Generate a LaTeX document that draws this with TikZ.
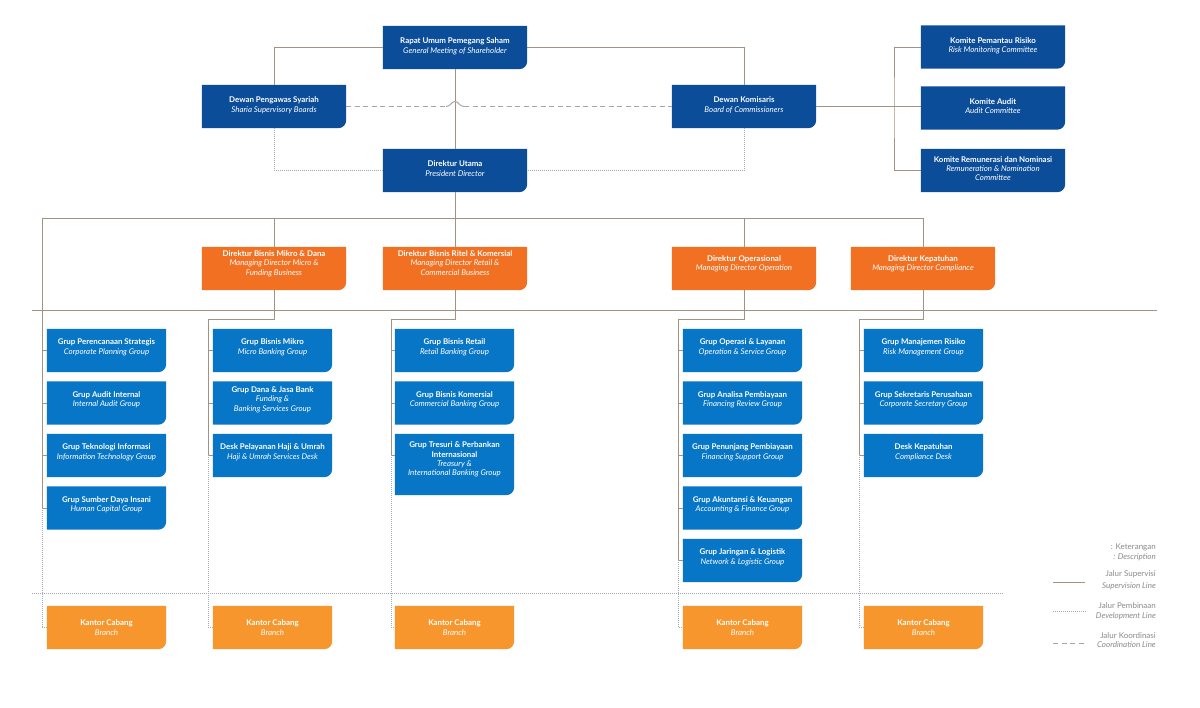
\documentclass[tikz,border=0pt]{standalone}
\usepackage{fontspec}
\setmainfont{Lato}
\usetikzlibrary{backgrounds}
\definecolor{topblue}{HTML}{0B4D99}
\definecolor{grpblue}{HTML}{0876C6}
\definecolor{dirorange}{HTML}{F17022}
\definecolor{brorange}{HTML}{F7962D}
\definecolor{supline}{HTML}{A09383}
\definecolor{devline}{HTML}{A3ABB6}
\definecolor{coordline}{HTML}{A6A6A6}
\definecolor{legtext}{HTML}{8A8A8A}
\newcommand\orgshape[2]{\fill[#2] (#1.north west) -- (#1.north east) -- ([yshift=8pt]#1.south east) arc[start angle=0,end angle=-90,radius=8pt] -- (#1.south west) -- cycle;}
\begin{document}
\begin{tikzpicture}[x=1pt,y=1pt,
  base/.style={inner sep=0pt, align=center, text=white, font=\fontsize{7.9}{9.3}\selectfont},
  topbox/.style={base, minimum width=144pt, minimum height=43pt, text depth=4pt},
  dirbox/.style={base, minimum width=144pt, minimum height=43pt, text depth=11pt},
  grpbox/.style={base, minimum width=119pt, minimum height=43pt, text depth=8pt},
  brbox/.style={base, minimum width=119pt, minimum height=43pt},
  sup/.style={draw=supline, line width=0.9pt},
  dev/.style={draw=devline, line width=0.8pt, dash pattern=on 0.8pt off 1.2pt},
  coordl/.style={draw=coordline, line width=1pt, dash pattern=on 5pt off 3.5pt},
  hopl/.style={draw=coordline, line width=1pt},
  leg/.style={inner sep=0pt, text=legtext, font=\fontsize{8}{9}\selectfont, anchor=base east}]
\useasboundingbox (0,0) rectangle (1200,708);

% top level
\node[topbox] (rups) at (455,660.5) {\textbf{Rapat Umum Pemegang Saham}\\\textit{General Meeting of Shareholder}};
\node[topbox] (syariah) at (274,601.5) {\textbf{Dewan Pengawas Syariah}\\\textit{Sharia Supervisory Boards}};
\node[topbox] (komisaris) at (744,601.5) {\textbf{Dewan Komisaris}\\\textit{Board of Commissioners}};
\node[topbox] (dirut) at (455,537.5) {\textbf{Direktur Utama}\\\textit{President Director}};
\node[topbox] (k1) at (993,661) {\textbf{Komite Pemantau Risiko}\\\textit{Risk Monitoring Committee}};
\node[topbox] (k2) at (993,600) {\textbf{Komite Audit}\\\textit{Audit Committee}};
\node[topbox] (k3) at (993,537.5) {\textbf{Komite Remunerasi dan Nominasi}\\\textit{Remuneration \& Nomination}\\\textit{Committee}};

% directors
\node[dirbox] (d1) at (274,439.5) {\textbf{Direktur Bisnis Mikro \& Dana}\\\textit{Managing Director Micro \&}\\\textit{Funding Business}};
\node[dirbox] (d2) at (455,439.5) {\textbf{Direktur Bisnis Ritel \& Komersial}\\\textit{Managing Director Retail \&}\\\textit{Commercial Business}};
\node[dirbox] (d3) at (744,439.5) {\textbf{Direktur Operasional}\\\textit{Managing Director Operation}};
\node[dirbox] (d4) at (923,439.5) {\textbf{Direktur Kepatuhan}\\\textit{Managing Director Compliance}};

% groups column 1
\node[grpbox] (g11) at (106.5,357.5) {\textbf{Grup Perencanaan Strategis}\\\textit{Corporate Planning Group}};
\node[grpbox] (g12) at (106.5,305) {\textbf{Grup Audit Internal}\\\textit{Internal Audit Group}};
\node[grpbox] (g13) at (106.5,252.5) {\textbf{Grup Teknologi Informasi}\\\textit{Information Technology Group}};
\node[grpbox] (g14) at (106.5,200) {\textbf{Grup Sumber Daya Insani}\\\textit{Human Capital Group}};
% column 2
\node[grpbox] (g21) at (272.5,357.5) {\textbf{Grup Bisnis Mikro}\\\textit{Micro Banking Group}};
\node[grpbox] (g22) at (272.5,305) {\textbf{Grup Dana \& Jasa Bank}\\\textit{Funding \&}\\\textit{Banking Services Group}};
\node[grpbox] (g23) at (272.5,252.5) {\textbf{Desk Pelayanan Haji \& Umrah}\\\textit{Haji \& Umrah Services Desk}};
% column 3
\node[grpbox] (g31) at (454.5,357.5) {\textbf{Grup Bisnis Retail}\\\textit{Retail Banking Group}};
\node[grpbox] (g32) at (454.5,305) {\textbf{Grup Bisnis Komersial}\\\textit{Commercial Banking Group}};
\node[grpbox, minimum height=61pt, text depth=11pt] (g33) at (454.5,243.5) {\textbf{Grup Tresuri \& Perbankan}\\\textbf{Internasional}\\\textit{Treasury \&}\\\textit{International Banking Group}};
% column 4
\node[grpbox] (g41) at (742.5,357.5) {\textbf{Grup Operasi \& Layanan}\\\textit{Operation \& Service Group}};
\node[grpbox] (g42) at (742.5,305) {\textbf{Grup Analisa Pembiayaan}\\\textit{Financing Review Group}};
\node[grpbox] (g43) at (742.5,252.5) {\textbf{Grup Penunjang Pembiayaan}\\\textit{Financing Support Group}};
\node[grpbox] (g44) at (742.5,200) {\textbf{Grup Akuntansi \& Keuangan}\\\textit{Accounting \& Finance Group}};
\node[grpbox] (g45) at (742.5,147.5) {\textbf{Grup Jaringan \& Logistik}\\\textit{Network \& Logistic Group}};
% column 5
\node[grpbox] (g51) at (923.5,357.5) {\textbf{Grup Manajemen Risiko}\\\textit{Risk Management Group}};
\node[grpbox] (g52) at (923.5,305) {\textbf{Grup Sekretaris Perusahaan}\\\textit{Corporate Secretary Group}};
\node[grpbox] (g53) at (923.5,252.5) {\textbf{Desk Kepatuhan}\\\textit{Compliance Desk}};

% branches
\node[brbox] (b1) at (106.5,80.5) {\textbf{Kantor Cabang}\\\textit{Branch}};
\node[brbox] (b2) at (272.5,80.5) {\textbf{Kantor Cabang}\\\textit{Branch}};
\node[brbox] (b3) at (454.5,80.5) {\textbf{Kantor Cabang}\\\textit{Branch}};
\node[brbox] (b4) at (742.5,80.5) {\textbf{Kantor Cabang}\\\textit{Branch}};
\node[brbox] (b5) at (923.5,80.5) {\textbf{Kantor Cabang}\\\textit{Branch}};

% box fills
\begin{scope}[on background layer]
\fill[white] (0,0) rectangle (1200,708);
\foreach \n in {rups,syariah,komisaris,dirut,k1,k2,k3} {\orgshape{\n}{topblue}}
\foreach \n in {d1,d2,d3,d4} {\orgshape{\n}{dirorange}}
\foreach \n in {g11,g12,g13,g14,g21,g22,g23,g31,g32,g33,g41,g42,g43,g44,g45,g51,g52,g53} {\orgshape{\n}{grpblue}}
\foreach \n in {b1,b2,b3,b4,b5} {\orgshape{\n}{brorange}}
\end{scope}

% helper coordinates
\coordinate (ksp) at (894,601.5);
\coordinate (busL) at (42,490);
\coordinate (sepL) at (32,398);
\coordinate (sepR) at (1157,398);
\coordinate (t2) at (208,389);
\coordinate (t3) at (391,389);
\coordinate (t4) at (678,389);
\coordinate (t5) at (859,389);
\coordinate (g33c) at ([yshift=9pt]g33.west);
\coordinate (dotL) at (32,115);
\coordinate (dotR) at (1003,115);
\coordinate (hopA) at (446,601.5);
\coordinate (hopT) at (455,606.5);
\coordinate (hopB) at (464,601.5);
\coordinate (hc1) at (451,601.5);
\coordinate (hc2) at (451,606.5);
\coordinate (hc3) at (459,606.5);
\coordinate (hc4) at (459,601.5);

% supervision lines
\begin{scope}
\draw[sup] (rups.west) -| (syariah.north);
\draw[sup] (rups.east) -| (komisaris.north);
\draw[sup] (rups.south) -- (dirut.north);
\draw[sup] (dirut.south) -- (d2.north);
\draw[sup] (komisaris.east) -- (komisaris.east -| k2.west);
\draw[sup] (k1.west) -| (ksp) |- (k3.west);
\draw[sup] (busL) -- (busL -| d4.north) -- (d4.north);
\draw[sup] (d1.north) -- (d1.north |- busL);
\draw[sup] (d3.north) -- (d3.north |- busL);
\draw[sup] (sepL) -- (sepR);
\draw[sup] (busL) -- (busL |- g14.west);
\foreach \g in {g11,g12,g13,g14} {\draw[sup] (\g.west) -- (\g.west -| busL);}
\draw[sup] (d1.south) |- (t2) -- (t2 |- g23.west);
\foreach \g in {g21,g22,g23} {\draw[sup] (\g.west) -- (\g.west -| t2);}
\draw[sup] (d2.south) |- (t3) -- (t3 |- g33c);
\foreach \g in {g31,g32} {\draw[sup] (\g.west) -- (\g.west -| t3);}
\draw[sup] (g33c) -- (g33c -| t3);
\draw[sup] (d3.south) |- (t4) -- (t4 |- g45.west);
\foreach \g in {g41,g42,g43,g44,g45} {\draw[sup] (\g.west) -- (\g.west -| t4);}
\draw[sup] (d4.south) |- (t5) -- (t5 |- g53.west);
\foreach \g in {g51,g52,g53} {\draw[sup] (\g.west) -- (\g.west -| t5);}
\end{scope}

% development lines
\draw[dev] (syariah.south) |- (dirut.west);
\draw[dev] (komisaris.south) |- (dirut.east);
\draw[dev] (dotL) -- (dotR);
\draw[dev] (busL |- g14.west) |- (b1.west);
\draw[dev] (t2 |- g23.west) |- (b2.west);
\draw[dev] (t3 |- g33c) |- (b3.west);
\draw[dev] (t4 |- g45.west) |- (b4.west);
\draw[dev] (t5 |- g53.west) |- (b5.west);

% coordination line with hop
\draw[coordl] (syariah.east) -- (hopA);
\draw[hopl] (hopA) .. controls (hc1) and (hc2) .. (hopT) .. controls (hc3) and (hc4) .. (hopB);
\draw[coordl] (hopB) -- (komisaris.west);

% legend
\node[leg] (lg1) at (1156,158.5) {: Keterangan};
\node[leg] (lg2) at (1156,148.5) {\textit{: Description}};
\node[leg] (lg3) at (1156,131.5) {Jalur Supervisi};
\node[leg] (lg4) at (1156,119.5) {\textit{Supervision Line}};
\node[leg] (lg5) at (1156,99.5) {Jalur Pembinaan};
\node[leg] (lg6) at (1156,89.5) {\textit{Development Line}};
\node[leg] (lg7) at (1156,69.5) {Jalur Koordinasi};
\node[leg] (lg8) at (1156,60.5) {\textit{Coordination Line}};
\coordinate (ls1) at (1053,126);
\coordinate (ls2) at (1085,126);
\coordinate (ld1) at (1053,97);
\coordinate (ld2) at (1086,97);
\coordinate (lc1) at (1053,64);
\coordinate (lc2) at (1085,64);
\draw[sup] (ls1) -- (ls2);
\draw[dev] (ld1) -- (ld2);
\draw[coordl] (lc1) -- (lc2);
\end{tikzpicture}
\end{document}
